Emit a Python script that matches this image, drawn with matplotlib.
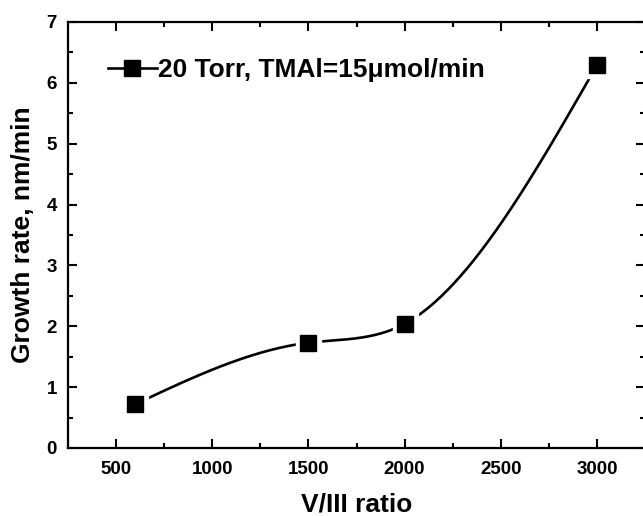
import numpy as np
import matplotlib
matplotlib.use("Agg")
import matplotlib.pyplot as plt
from matplotlib.lines import Line2D
from matplotlib.ticker import MultipleLocator

# ---- data ----
v3_ratio = [600, 1500, 2000, 3000]
growth_rate = [0.72, 1.73, 2.04, 6.29]
series_label = "20 Torr, TMAl=15\u03bcmol/min"
x_ticks = [500, 1000, 1500, 2000, 2500, 3000]
y_ticks = [0, 1, 2, 3, 4, 5, 6, 7]
x_label = "V/III ratio"
y_label = "Growth rate, nm/min"


def natural_spline(x, y, n=300):
    x = np.asarray(x, float)
    y = np.asarray(y, float)
    k = len(x)
    h = np.diff(x)
    A = np.zeros((k, k))
    b = np.zeros(k)
    A[0, 0] = 1
    A[-1, -1] = 1
    for i in range(1, k - 1):
        A[i, i - 1] = h[i - 1]
        A[i, i] = 2 * (h[i - 1] + h[i])
        A[i, i + 1] = h[i]
        b[i] = 6 * ((y[i + 1] - y[i]) / h[i] - (y[i] - y[i - 1]) / h[i - 1])
    M = np.linalg.solve(A, b)
    xs = np.linspace(x[0], x[-1], n)
    ys = np.empty_like(xs)
    for j, xv in enumerate(xs):
        i = min(np.searchsorted(x, xv) - 1, k - 2)
        i = max(i, 0)
        t1 = x[i + 1] - xv
        t0 = xv - x[i]
        ys[j] = (M[i] * t1 ** 3 / (6 * h[i]) + M[i + 1] * t0 ** 3 / (6 * h[i])
                 + (y[i] / h[i] - M[i] * h[i] / 6) * t1
                 + (y[i + 1] / h[i] - M[i + 1] * h[i] / 6) * t0)
    return xs, ys


plt.rcParams["font.family"] = ["Liberation Sans", "DejaVu Sans"]
plt.rcParams["font.weight"] = "bold"

fig = plt.figure(figsize=(6.43, 5.16), dpi=100)
ax = fig.add_axes([68 / 643, 68 / 516, 577 / 643, 426 / 516])

xs, ys = natural_spline(v3_ratio, growth_rate)
ax.plot(xs, ys, color="black", lw=1.9, zorder=2)
ax.plot(v3_ratio, growth_rate, ls="none", marker="s", ms=18, color="white",
        mec="white", zorder=3)
ax.plot(v3_ratio, growth_rate, ls="none", marker="s", ms=11, color="black",
        mec="black", zorder=4)

ax.set_xlim(250, 3250)
ax.set_ylim(0, 7)
ax.set_xticks(x_ticks)
ax.set_yticks(y_ticks)
ax.xaxis.set_minor_locator(MultipleLocator(250))
ax.yaxis.set_minor_locator(MultipleLocator(0.5))
ax.tick_params(which="both", direction="in", top=True, right=True, width=1.5)
ax.tick_params(which="major", length=6.5, labelsize=13.5, pad=8)
ax.tick_params(axis="x", which="major", pad=9.5)
ax.tick_params(which="minor", length=3.6)
for s in ax.spines.values():
    s.set_linewidth(1.6)
for lab in ax.get_xticklabels() + ax.get_yticklabels():
    lab.set_fontweight("bold")

ax.set_xlabel(x_label, fontsize=19, fontweight="bold", labelpad=10)
ax.set_ylabel(y_label, fontsize=19, fontweight="bold", labelpad=8)

handle = Line2D([], [], color="black", lw=1.9, marker="s", ms=11)
ax.legend([handle], [series_label], loc="center left",
          bbox_to_anchor=(40 / 577, (448 - 70) / 426), frameon=False,
          borderpad=0, borderaxespad=0, handlelength=1.85, handletextpad=0.05,
          prop={"size": 19, "weight": "bold"})

fig.savefig("out.png", dpi=100)
